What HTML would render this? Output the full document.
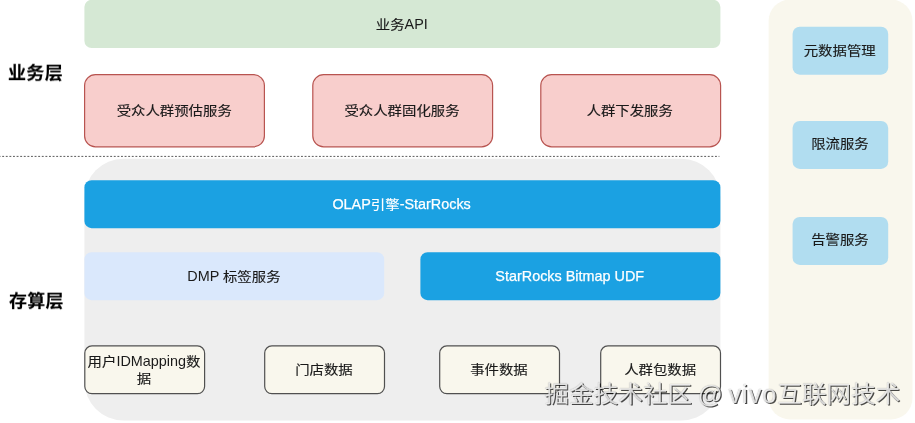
<!DOCTYPE html>
<html lang="zh-CN">
<head>
<meta charset="utf-8">
<title>架构图</title>
<style>
html,body{margin:0;padding:0;background:#fff;}
body{width:915px;height:423px;position:relative;overflow:hidden;font-family:"Liberation Sans","Noto Sans CJK SC",sans-serif;font-size:14.4px;color:#1a1a1a;}
svg{position:absolute;left:0;top:0;}
.t{will-change:transform;position:absolute;box-sizing:border-box;padding-right:0.4px;display:flex;align-items:center;justify-content:center;text-align:center;line-height:17.3px;white-space:nowrap;}
.i{position:relative;left:var(--dx,0px);top:calc(1px + var(--dy,0px));}
.w{color:#fff;-webkit-text-stroke:0.25px #fff;}
.c{display:inline-block;font-weight:400;-webkit-text-stroke:0.15px currentColor;font-size:14.4px;letter-spacing:0;transform:translateY(0.5px) scaleY(0.89);}
.lab{will-change:transform;position:absolute;font-weight:bold;font-size:18px;line-height:24px;color:#000;white-space:nowrap;letter-spacing:0.3px;-webkit-text-stroke:0.12px #000;transform-origin:0 50%;transform:translateY(1.4px) scaleY(0.97);}
.wm{will-change:transform;position:absolute;left:0;top:377.6px;width:915px;height:32px;font-size:24.6px;line-height:32px;color:rgba(255,255,255,0.8);white-space:nowrap;text-shadow:1.1px 1.1px 0.4px rgba(0,0,0,0.7),0 0 1px rgba(0,0,0,0.42);}
.wm span{position:absolute;top:0;display:block;transform-origin:0 26px;}
.wm .k{transform:scaleY(0.93);}
</style>
</head>
<body>
<svg width="915" height="423" viewBox="0 0 915 423">
  <rect x="84.4" y="-0.2" width="636" height="48.2" rx="7.2" fill="#d5e8d4"/>
  <g fill="#f8cecc" stroke="#b85450" stroke-width="1.2">
    <rect x="84.6" y="74.7" width="179.8" height="72.1" rx="10.8"/>
    <rect x="312.8" y="74.7" width="179.8" height="72.1" rx="10.8"/>
    <rect x="540.8" y="74.7" width="179.8" height="72.1" rx="10.8"/>
  </g>
  <line x1="-1.4" y1="156.4" x2="719.4" y2="156.4" stroke="#5a5a5a" stroke-width="1" stroke-dasharray="1.9 1.7"/>
  <rect x="84.4" y="158.8" width="636" height="261.6" rx="39" fill="#eeeeee"/>
  <rect x="84.4" y="180.2" width="636" height="48" rx="7.2" fill="#1ba1e2"/>
  <rect x="84.4" y="252.2" width="299.8" height="48" rx="7.2" fill="#dae8fc"/>
  <rect x="420.4" y="252.2" width="300" height="48" rx="7.2" fill="#1ba1e2"/>
  <g fill="#f9f7ed" stroke="#505050" stroke-width="1.2">
    <rect x="84.8" y="345.9" width="119.8" height="47.8" rx="7.2"/>
    <rect x="264.7" y="345.9" width="119.8" height="47.8" rx="7.2"/>
    <rect x="439.7" y="345.9" width="119.8" height="47.8" rx="7.2"/>
    <rect x="600.7" y="345.9" width="119.8" height="47.8" rx="7.2"/>
  </g>
  <rect x="768.6" y="-0.5" width="143.9" height="420" rx="21.6" fill="#f9f7ed"/>
  <g fill="#b1ddf0">
    <rect x="792.6" y="26.7" width="95.6" height="48" rx="7.2"/>
    <rect x="792.6" y="120.9" width="95.6" height="48" rx="7.2"/>
    <rect x="792.6" y="216.9" width="95.6" height="48" rx="7.2"/>
  </g>
</svg>
<div class="t" style="left:84.4px;top:0;width:636px;height:48px;"><div class="i" style="--dx:0px;--dy:0.1px"><span class="c">业务</span>API</div></div>
<div class="lab" style="left:8.4px;top:60.1px;letter-spacing:0.35px;">业务层</div>
<div class="t" style="left:84.6px;top:74.7px;width:180px;height:72px;"><div class="i" style="--dx:-0.6px;--dy:-1px"><span class="c">受众人群预估服务</span></div></div>
<div class="t" style="left:312.8px;top:74.7px;width:180px;height:72px;"><div class="i" style="--dx:-0.8px;--dy:-1px"><span class="c">受众人群固化服务</span></div></div>
<div class="t" style="left:540.8px;top:74.7px;width:180px;height:72px;"><div class="i" style="--dx:-1.1px;--dy:-1px"><span class="c">人群下发服务</span></div></div>
<div class="t w" style="left:84.4px;top:180.2px;width:636px;height:48px;"><div class="i" style="--dx:-0.2px;--dy:-0.3px">OLAP<span class="c">引擎</span>-StarRocks</div></div>
<div class="t" style="left:84.4px;top:252.2px;width:300px;height:48px;"><div class="i" style="--dx:0.1px;--dy:0px">DMP <span class="c">标签服务</span></div></div>
<div class="t w" style="left:420.4px;top:252.2px;width:300px;height:48px;"><div class="i" style="--dx:-0.1px;--dy:0px">StarRocks Bitmap UDF</div></div>
<div class="lab" style="left:9px;top:288px;">存算层</div>
<div class="t" style="left:84.8px;top:345.9px;width:120px;height:48px;"><div class="i" style="--dx:-0.8px;--dy:-1px"><span class="c">用户</span>IDMapping<span class="c">数</span><br><span class="c">据</span></div></div>
<div class="t" style="left:264.7px;top:345.9px;width:120px;height:48px;"><div class="i" style="--dx:-0.9px;--dy:-1.3px"><span class="c">门店数据</span></div></div>
<div class="t" style="left:439.7px;top:345.9px;width:120px;height:48px;"><div class="i" style="--dx:-0.9px;--dy:-1.3px"><span class="c">事件数据</span></div></div>
<div class="t" style="left:600.7px;top:345.9px;width:120px;height:48px;"><div class="i" style="--dx:-0.7px;--dy:-1.6px"><span class="c">人群包数据</span></div></div>
<div class="t" style="left:792.6px;top:26.7px;width:95.6px;height:48px;"><div class="i" style="--dx:-0.9px;--dy:-1.5px"><span class="c">元数据管理</span></div></div>
<div class="t" style="left:792.6px;top:120.9px;width:95.6px;height:48px;"><div class="i" style="--dx:-0.7px;--dy:-2.1px"><span class="c">限流服务</span></div></div>
<div class="t" style="left:792.6px;top:216.9px;width:95.6px;height:48px;"><div class="i" style="--dx:-0.7px;--dy:-2.0px"><span class="c">告警服务</span></div></div>
<div class="wm"><span class="k" style="left:544.5px;">掘金技术社区</span><span style="left:697.8px;top:0.8px;"> @ </span><span style="left:728.4px;font-size:25.6px;letter-spacing:0.9px;">vivo</span><span class="k" style="left:777.3px;">互联网技术</span></div>
</body>
</html>
